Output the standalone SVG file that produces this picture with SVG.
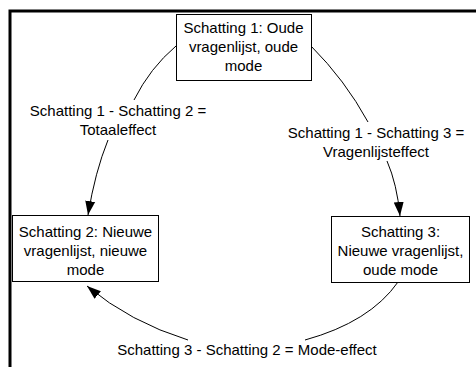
<svg xmlns="http://www.w3.org/2000/svg" width="476" height="367" viewBox="0 0 476 367">
<style>
text{font-family:"Liberation Sans",Arial,sans-serif;font-size:15px;fill:#000;text-anchor:middle}
.box{fill:#fff;stroke:#000;stroke-width:1}
.c{fill:none;stroke:#000;stroke-width:1}
</style>
<defs>
<marker id="ah" markerUnits="userSpaceOnUse" markerWidth="15" markerHeight="11" refX="14" refY="5.5" orient="auto">
<path d="M0,0.5 L14,5.5 L0,10.5 z" fill="#000"/>
</marker>
</defs>
<rect width="476" height="367" fill="#fff"/>
<path d="M10,367 V11 H476" fill="none" stroke="#000" stroke-width="3"/>
<g id="connectors">
<path class="c" d="M176,46 Q150,68 134,100"/>
<path class="c" d="M108,140 Q95,172 88,215" marker-end="url(#ah)"/>
<path class="c" d="M311,46 Q345,80 368,122"/>
<path class="c" d="M387,161 Q397,184 400,216" marker-end="url(#ah)"/>
<path class="c" d="M398,282 Q370,322 305,340"/>
<path class="c" d="M188,340 Q130,322 87,286" marker-end="url(#ah)"/>
</g>
<g id="node1">
<rect class="box" x="176.5" y="14.5" width="135" height="66"/>
<text x="243.5" y="33">Schatting 1: Oude</text>
<text x="243.5" y="52">vragenlijst, oude</text>
<text x="243.5" y="71">mode</text>
</g>
<g id="node2">
<rect class="box" x="12.5" y="215.5" width="146" height="66"/>
<text x="85.5" y="237">Schatting 2: Nieuwe</text>
<text x="85.5" y="256">vragenlijst, nieuwe</text>
<text x="85.5" y="275">mode</text>
</g>
<g id="node3">
<rect class="box" x="331.5" y="216.5" width="138" height="66"/>
<text x="400.5" y="237">Schatting 3:</text>
<text x="400.5" y="256">Nieuwe vragenlijst,</text>
<text x="400.5" y="275">oude mode</text>
</g>
<g id="label1">
<text x="118" y="116">Schatting 1 - Schatting 2 =</text>
<text x="118" y="135">Totaaleffect</text>
</g>
<g id="label2">
<text x="376" y="138">Schatting 1 - Schatting 3 =</text>
<text x="376" y="157">Vragenlijsteffect</text>
</g>
<g id="label3">
<text x="247" y="355">Schatting 3 - Schatting 2 = Mode-effect</text>
</g>
</svg>
